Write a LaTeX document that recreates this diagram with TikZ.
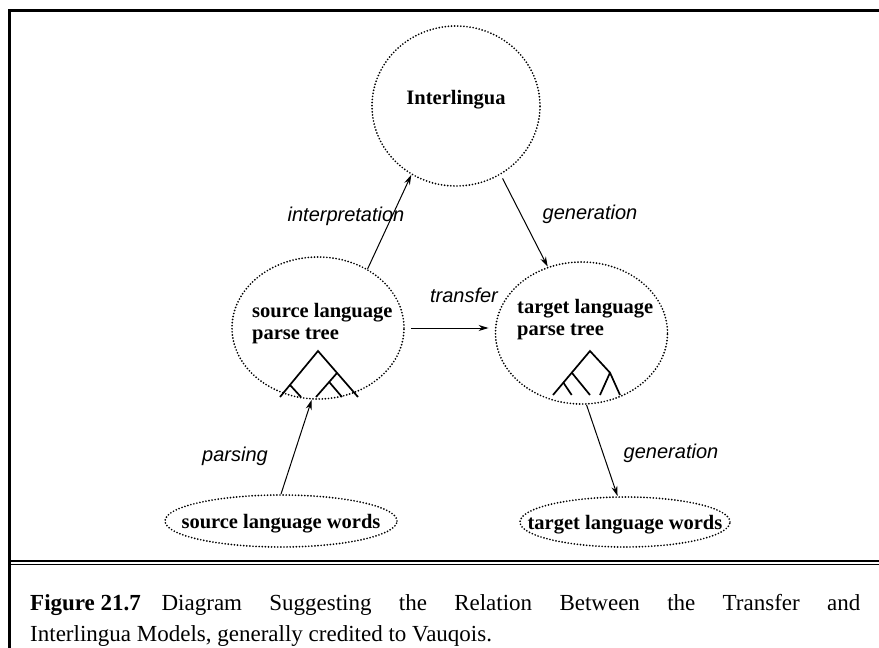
\documentclass[tikz,border=0pt]{standalone}
\usepackage{fontspec}
\setmainfont{Liberation Serif}
\newfontfamily\lblfont{Liberation Sans}
\usetikzlibrary{arrows.meta,shapes.geometric}
\begin{document}
\begin{tikzpicture}[x=1pt,y=-1pt,
  dotell/.style={ellipse, draw, line width=1.9pt, dash pattern=on 0pt off 3.1pt, line cap=round, inner sep=0pt},
  boldtxt/.style={font=\fontsize{20.5}{22}\selectfont\bfseries, inner sep=0pt},
  lbl/.style={font=\fontsize{20}{22}\selectfont\lblfont\itshape, inner sep=0pt, anchor=base},
  arr/.style={line width=1pt, -{Stealth[length=10pt,width=6pt]}},
  treeline/.style={line width=1.7pt},
  frameline/.style={line width=3pt}]
\useasboundingbox (0,0) rectangle (879,648);
% frame
\draw[frameline] (9.5,650) -- (9.5,10.5) -- (882,10.5);
\draw[line width=1.5pt] (11,561) -- (882,561);
\draw[line width=1.5pt] (11,564.5) -- (882,564.5);
% ellipses
\node[dotell, minimum width=168pt, minimum height=160pt] (inter) at (456,106) {};
\node[dotell, minimum width=172pt, minimum height=142pt] (src) at (318,328) {};
\node[dotell, minimum width=172pt, minimum height=142pt] (tgt) at (581.5,333) {};
\node[dotell, minimum width=232pt, minimum height=52pt] (srcw) at (281,521) {};
\node[dotell, minimum width=210pt, minimum height=50pt] (tgtw) at (625,522) {};
% texts
\node[boldtxt, anchor=base] (intertxt) at (456,104) {Interlingua};
\node[boldtxt, anchor=base west] (srct1) at (252,317) {source language};
\node[boldtxt, anchor=base west] (srct2) at (252,339) {parse tree};
\node[boldtxt, anchor=base west] (tgtt1) at (517,313) {target language};
\node[boldtxt, anchor=base west] (tgtt2) at (517,335) {parse tree};
\node[boldtxt, anchor=base] (srcwt) at (281,528) {source language words};
\node[boldtxt, anchor=base] (tgtwt) at (625,529) {target language words};
% trees
\draw[treeline] (280,397) -- (318,351) -- (358,397);
\draw[treeline] (290,385) -- (301,397);
\draw[treeline] (337,373) -- (316,397);
\draw[treeline] (329.2,382) -- (342,397);
\draw[treeline] (553,395) -- (590,351) -- (610,372.7) -- (620,395);
\draw[treeline] (610,372.7) -- (600,395);
\draw[treeline] (571.8,372.7) -- (590,395);
\draw[treeline] (563.4,382.7) -- (571.7,395);
% arrows
\draw[arr] (src.50) -- (inter.237);
\draw[arr, shorten <=4pt] (inter.303) -- (tgt.117);
\draw[arr, shorten <=6pt, shorten >=6pt] (src.east) -- (src.east -| tgt.west);
\draw[arr] (srcw.north) -- (src.265);
\draw[arr] (tgt.274) -- (tgtw.106);
% labels
\node[lbl] (l1) at (346,221) {interpretation};
\node[lbl] (l2) at (590,219) {generation};
\node[lbl] (l3) at (464,302) {transfer};
\node[lbl] (l4) at (235,461) {parsing};
\node[lbl] (l5) at (671,458) {generation};
% caption
\node[anchor=north west, inner sep=0pt, text width=830pt, align=justify,
      font=\fontsize{23}{31}\selectfont] (cap) at (30,594)
  {\mbox{\textbf{Figure 21.7}}\hspace{0.9em}Diagram Suggesting the Relation Between the Transfer and\linebreak Interlingua Models, generally credited to Vauqois.};
\end{tikzpicture}
\end{document}
